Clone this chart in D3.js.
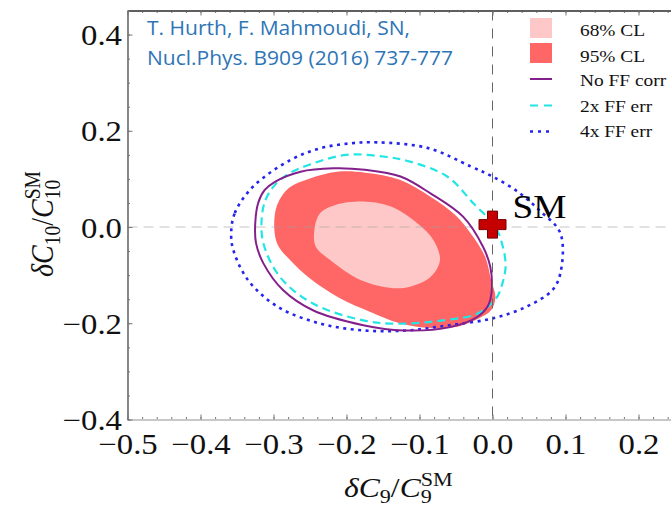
<!DOCTYPE html>
<html>
<head>
<meta charset="utf-8">
<script src="https://cdn.jsdelivr.net/npm/d3@7"></script>
<style>
  html, body { margin: 0; padding: 0; background: #fff; }
  svg { display: block; }
</style>
</head>
<body>
<svg id="chart" width="671" height="507"></svg>
<script>
// Axis ticks and labels
const xTicks = [-0.5, -0.4, -0.3, -0.2, -0.1, 0.0, 0.1, 0.2];
const yTicks = [-0.4, -0.2, 0.0, 0.2, 0.4];
const xMinorStep = 0.02;
const yMinorStep = 0.05;

// Confidence regions in the (δC9/C9SM, δC10/C10SM) plane
const cl68 = [
  [-0.244,-0.006],[-0.236,0.029],[-0.215,0.046],[-0.177,0.053],[-0.140,0.043],
  [-0.103,0.008],[-0.081,-0.027],[-0.072,-0.069],[-0.085,-0.104],[-0.113,-0.124],
  [-0.136,-0.127],[-0.181,-0.110],[-0.222,-0.069],[-0.242,-0.041]
];
const cl95 = [
  [-0.299,0.000],[-0.295,0.046],[-0.279,0.081],[-0.250,0.101],[-0.213,0.115],
  [-0.174,0.113],[-0.127,0.098],[-0.085,0.063],[-0.051,0.025],[-0.028,-0.017],
  [-0.010,-0.062],[-0.002,-0.110],[0.004,-0.146],[-0.002,-0.173],[-0.019,-0.190],
  [-0.051,-0.208],[-0.085,-0.210],[-0.127,-0.200],[-0.168,-0.176],[-0.209,-0.148],
  [-0.250,-0.107],[-0.277,-0.069],[-0.294,-0.038]
];
// Contours with alternative form-factor treatments
const noFFcorr = [
  [-0.325,0.008],[-0.321,0.050],[-0.312,0.077],[-0.298,0.094],[-0.263,0.115],
  [-0.218,0.122],[-0.175,0.119],[-0.126,0.105],[-0.085,0.070],[-0.040,0.021],
  [-0.013,-0.041],[-0.003,-0.083],[-0.001,-0.131],[-0.006,-0.163],[-0.021,-0.187],
  [-0.058,-0.208],[-0.122,-0.215],[-0.177,-0.204],[-0.246,-0.173],[-0.287,-0.131],
  [-0.314,-0.075],[-0.324,-0.033]
];
const ff2x = [
  [-0.316,0.021],[-0.311,0.056],[-0.300,0.084],[-0.280,0.110],[-0.252,0.129],
  [-0.200,0.150],[-0.147,0.146],[-0.113,0.136],[-0.062,0.105],[-0.026,0.049],
  [0.004,0.000],[0.014,-0.040],[0.018,-0.080],[0.014,-0.115],[0.005,-0.148],
  [-0.021,-0.180],[-0.068,-0.194],[-0.131,-0.201],[-0.177,-0.194],[-0.246,-0.159],
  [-0.291,-0.104],[-0.314,-0.033]
];
const ff4x = [
  [-0.358,-0.013],[-0.353,0.029],[-0.328,0.084],[-0.276,0.140],[-0.235,0.164],
  [-0.194,0.174],[-0.158,0.176],[-0.088,0.164],[-0.030,0.126],[0.000,0.105],
  [0.035,0.073],[0.064,0.035],[0.093,-0.013],[0.093,-0.096],[0.082,-0.131],
  [0.046,-0.166],[0.000,-0.190],[-0.059,-0.204],[-0.118,-0.215],[-0.176,-0.215],
  [-0.235,-0.201],[-0.294,-0.166],[-0.335,-0.110],[-0.355,-0.048]
];
// Standard Model point
const smPoint = [0.0, 0.005];

const legendLabels = ["68% CL", "95% CL", "No FF corr", "2x FF err", "4x FF err"];
const creditLines = ["T. Hurth, F. Mahmoudi, SN,", "Nucl.Phys. B909 (2016) 737-777"];

// ---- layout and style ----
const SX = 1.13;   // horizontal text stretch
const serif = "'Liberation Serif','Times New Roman',serif";
const plot = { left: 127.5, right: 675, top: 10.5, bottom: 419.5 };
const colors = {
  c68: "#ffc8c8", c95: "#ff6666", purple: "#84208c", cyan: "#22e6e6", blue: "#2424ee",
  sm: "#c40000", smEdge: "#7a0000", credit: "#2e75b6"
};

const svg = d3.select("#chart");
const x = d3.scaleLinear().domain([-0.5, 0.25]).range([plot.left, plot.right]);
const y = d3.scaleLinear().domain([-0.4, 0.45]).range([plot.bottom, plot.top]);

svg.append("defs").append("clipPath").attr("id", "clip")
  .append("rect").attr("x", plot.left).attr("y", plot.top)
  .attr("width", plot.right - plot.left).attr("height", plot.bottom - plot.top);

const area = svg.append("g").attr("clip-path", "url(#clip)");
const line = d3.line().x(d => x(d[0])).y(d => y(d[1])).curve(d3.curveCatmullRomClosed.alpha(0.5));

// Filled regions
area.append("path").attr("d", line(cl95)).attr("fill", colors.c95);
area.append("path").attr("d", line(cl68)).attr("fill", colors.c68);

// Zero lines
area.append("line").attr("x1", plot.left).attr("x2", plot.right)
  .attr("y1", y(0)).attr("y2", y(0))
  .attr("stroke", "rgba(160,160,160,0.3)").attr("stroke-width", 2).attr("stroke-dasharray", "10,6");

// Contours
area.append("path").attr("d", line(ff4x)).attr("fill", "none")
  .attr("stroke", colors.blue).attr("stroke-width", 2.6).attr("stroke-dasharray", "3,4.5");
area.append("path").attr("d", line(ff2x)).attr("fill", "none")
  .attr("stroke", colors.cyan).attr("stroke-width", 2.2).attr("stroke-dasharray", "8,5");
area.append("path").attr("d", line(noFFcorr)).attr("fill", "none")
  .attr("stroke", colors.purple).attr("stroke-width", 2);

area.append("line").attr("x1", x(0)).attr("x2", x(0))
  .attr("y1", plot.top).attr("y2", plot.bottom)
  .attr("stroke", "#666").attr("stroke-width", 1).attr("stroke-dasharray", "10,8");

// SM marker (plus sign)
const cx = x(smPoint[0]), cy = y(smPoint[1]);
const arm = 13.5, half = 5;
const plus = d3.path();
plus.moveTo(cx - half, cy - arm); plus.lineTo(cx + half, cy - arm); plus.lineTo(cx + half, cy - half);
plus.lineTo(cx + arm, cy - half); plus.lineTo(cx + arm, cy + half); plus.lineTo(cx + half, cy + half);
plus.lineTo(cx + half, cy + arm); plus.lineTo(cx - half, cy + arm); plus.lineTo(cx - half, cy + half);
plus.lineTo(cx - arm, cy + half); plus.lineTo(cx - arm, cy - half); plus.lineTo(cx - half, cy - half);
plus.closePath();
svg.append("path").attr("d", plus.toString()).attr("fill", colors.sm)
  .attr("stroke", colors.smEdge).attr("stroke-width", 1);

function stext(g, px, py, str, size, anchor, opts = {}) {
  const t = g.append("text")
    .attr("transform", `translate(${px},${py}) scale(${opts.sx || SX},1)`)
    .attr("text-anchor", anchor || "start")
    .attr("font-family", opts.family || serif)
    .attr("font-size", size)
    .attr("fill", opts.fill || "#111")
    .text(str);
  return t;
}

stext(svg, cx + 20, cy - 7, "SM", 33, "start", { fill: "#000" });

// ---- axes ----
const fmt = d => (d < -1e-9 ? "\u2212" : "") + Math.abs(d).toFixed(1);
const xMinor = d3.range(-0.5, 0.2501, xMinorStep).map(v => +v.toFixed(3));
const yMinor = d3.range(-0.4, 0.4501, yMinorStep).map(v => +v.toFixed(3));

function styleAxis(g, domainColor) {
  g.select(".domain").attr("stroke", domainColor).attr("stroke-width", 1.3);
  g.selectAll(".tick line").attr("stroke", "#777").attr("stroke-width", 1);
}

const gxMinor = svg.append("g").attr("transform", `translate(0,${plot.bottom})`)
  .call(d3.axisBottom(x).tickValues(xMinor).tickSize(-2.5).tickSizeOuter(0).tickFormat(""));
styleAxis(gxMinor, "#c4c4c4");
const gx = svg.append("g").attr("transform", `translate(0,${plot.bottom})`)
  .call(d3.axisBottom(x).tickValues(xTicks).tickSize(-5).tickSizeOuter(0).tickFormat(fmt));
styleAxis(gx, "#c4c4c4");
gx.selectAll(".tick text")
  .attr("font-family", serif).attr("font-size", 29).attr("fill", "#111")
  .attr("y", 35).attr("dy", 0).attr("transform", `scale(${SX},1)`);

const gtMinor = svg.append("g").attr("transform", `translate(0,${plot.top})`)
  .call(d3.axisTop(x).tickValues(xMinor).tickSize(-2.5).tickSizeOuter(0).tickFormat(""));
styleAxis(gtMinor, "#555");
const gt = svg.append("g").attr("transform", `translate(0,${plot.top})`)
  .call(d3.axisTop(x).tickValues(xTicks).tickSize(-5).tickSizeOuter(0).tickFormat(""));
styleAxis(gt, "#555");

const gyMinor = svg.append("g").attr("transform", `translate(${plot.left},0)`)
  .call(d3.axisLeft(y).tickValues(yMinor).tickSize(-2.5).tickSizeOuter(0).tickFormat(""));
styleAxis(gyMinor, "#777");
const gy = svg.append("g").attr("transform", `translate(${plot.left},0)`)
  .call(d3.axisLeft(y).tickValues(yTicks).tickSize(-5).tickSizeOuter(0).tickFormat(fmt));
styleAxis(gy, "#777");
gy.selectAll(".tick text")
  .attr("font-family", serif).attr("font-size", 29).attr("fill", "#111")
  .attr("x", -5.5 / SX).attr("dy", 10).attr("text-anchor", "end")
  .attr("transform", `scale(${SX},1)`);

// ---- axis titles ----
function cTitle(g, sub, size) {
  const t = g.append("text").attr("font-family", serif).attr("font-size", size).attr("fill", "#111");
  const s = size * 0.7;
  t.append("tspan").attr("font-style", "italic").text("\u03b4C");
  t.append("tspan").attr("font-size", s).attr("dy", size * 0.22).text(sub);
  t.append("tspan").attr("dy", -size * 0.22).text("/");
  t.append("tspan").attr("font-style", "italic").text("C");
  t.append("tspan").attr("font-size", s).attr("dy", size * 0.22).text(sub);
  t.append("tspan").attr("font-size", s).attr("dx", -s * 0.5 * sub.length).attr("dy", -size * 0.62).text("SM");
  return t;
}
const xt = svg.append("g").attr("transform", `translate(344,497) scale(${SX},1)`);
cTitle(xt, "9", 28);
const yt = svg.append("g").attr("transform", `translate(53,277) scale(${SX},1) rotate(-90)`);
cTitle(yt, "10", 28);

// ---- credit ----
creditLines.forEach((s, i) => {
  svg.append("text")
    .attr("x", 147).attr("y", 35 + i * 29.5)
    .attr("font-family", "'Open Sans', 'Noto Sans', sans-serif")
    .attr("font-size", 20).attr("fill", colors.credit)
    .attr("textLength", i === 0 ? 263 : 306).attr("lengthAdjust", "spacingAndGlyphs")
    .text(s);
});

// ---- legend ----
const lg = svg.append("g");
const lgX = 530, lgW = 22, lgTextX = 580;
const lgBase = [36, 61.5, 85.5, 111.5, 137];
lg.append("rect").attr("x", lgX).attr("y", 18).attr("width", lgW).attr("height", 20).attr("fill", colors.c68);
lg.append("rect").attr("x", lgX).attr("y", 43).attr("width", lgW).attr("height", 20).attr("fill", colors.c95);
lg.append("line").attr("x1", lgX).attr("x2", lgX + lgW).attr("y1", 79).attr("y2", 79)
  .attr("stroke", colors.purple).attr("stroke-width", 2);
lg.append("line").attr("x1", lgX).attr("x2", lgX + lgW).attr("y1", 105.5).attr("y2", 105.5)
  .attr("stroke", colors.cyan).attr("stroke-width", 2.2).attr("stroke-dasharray", "8,6");
lg.append("line").attr("x1", lgX).attr("x2", lgX + lgW).attr("y1", 131.5).attr("y2", 131.5)
  .attr("stroke", colors.blue).attr("stroke-width", 2.6).attr("stroke-dasharray", "3,5");
legendLabels.forEach((s, i) => stext(lg, lgTextX, lgBase[i], s, 17, "start", { sx: 1.14 }));
</script>
</body>
</html>
